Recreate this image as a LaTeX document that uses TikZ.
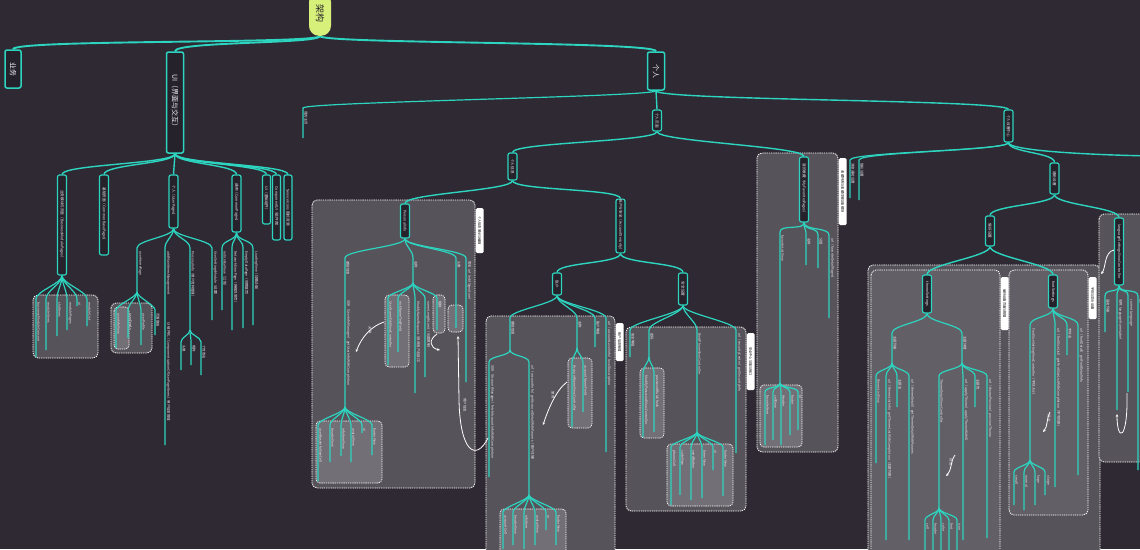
\documentclass[tikz,border=0pt]{standalone}
\usepackage{fontspec}
\setmainfont{Noto Sans CJK SC}
\usetikzlibrary{arrows.meta}
\definecolor{bgc}{RGB}{46,41,51}
\definecolor{cy}{RGB}{45,212,191}
\definecolor{grpf}{RGB}{86,83,90}
\definecolor{grpg}{RGB}{98,95,102}
\definecolor{inf}{RGB}{114,111,118}
\definecolor{ndf}{RGB}{38,34,44}
\definecolor{lime}{RGB}{214,240,122}
\definecolor{txt}{RGB}{236,236,240}
\pgfdeclarelayer{boxes}
\pgfdeclarelayer{lines}
\pgfsetlayers{boxes,lines,main}
\newcommand\vrt[1]{\rotatebox{-90}{#1}}
\newcommand\conn[3][10]{\begin{pgfonlayer}{lines}\draw[cl] (#2.south) .. controls +(0,#1) and +(0,-#1) .. (#3.north);\end{pgfonlayer}}
\newcommand\leafx[7][8]{%
 \coordinate (#2) at (#4,#5);%
 \coordinate (#2-e) at (#4,#6);%
 \node[lt,anchor=north west] (#2-t) at ([xshift=0.9pt,yshift=-3pt]#2) {\vrt{#7}};%
 \begin{pgfonlayer}{lines}\draw[cl,line width=1.2pt] (#3) .. controls +(0,#1) and +(0,-#1) .. (#2) -- (#2-e);\end{pgfonlayer}}
\newcommand\grpbox[5]{\begin{pgfonlayer}{boxes}\draw[#1] (#2,#3) rectangle (#4,#5);\end{pgfonlayer}}
\newcommand\tagn[4]{\node[tagbox,minimum height=#3pt,anchor=north west] (#1) at (#2) {\vrt{#4}};}
\tikzset{
 vn/.style={draw=cy, line width=1.2pt, fill=ndf, rounded corners=2pt, inner sep=0.6pt, minimum width=9pt, text=txt, font=\fontsize{3.6}{4}\selectfont},
 big/.style={vn, minimum width=17pt, line width=1.5pt, font=\fontsize{7}{8}\selectfont},
 lt/.style={inner sep=0.3pt, text=txt, font=\fontsize{3.4}{3.8}\selectfont},
 cl/.style={draw=cy, line width=1.4pt},
 topl/.style={draw=cy, line width=1.9pt},
 grp/.style={fill=grpf, draw=white, dash pattern=on 1.3pt off 0.9pt, line width=0.8pt, rounded corners=5pt},
 grp2/.style={grp, fill=grpg},
 inb/.style={fill=inf, draw=white, dash pattern=on 1.3pt off 0.9pt, line width=0.7pt, rounded corners=4pt},
 tagbox/.style={fill=white, rounded corners=1.5pt, inner sep=0.6pt, minimum width=8pt, text=black, font=\fontsize{3.2}{3.6}\selectfont},
 rel/.style={draw=white, line width=0.8pt, -{Stealth[length=3pt,width=2.6pt]}},
}
\begin{document}
\begin{tikzpicture}[x=1pt,y=-1pt]
\useasboundingbox (0,0) rectangle (1140,549);
\begin{pgfonlayer}{boxes}
\fill[bgc] (0,0) rectangle (1140,549);
\end{pgfonlayer}
% ---------- group boxes ----------
\grpbox{grp}{33}{295}{98}{358}
\grpbox{grp}{111}{303}{152}{353}
\grpbox{inb}{114}{307}{129}{349}
\grpbox{grp}{757}{153}{838}{452}
\grpbox{inb}{760}{385}{802}{447}
\grpbox{grp}{312}{200}{475}{488}
\grpbox{inb}{316}{421}{382}{483}
\grpbox{inb}{385}{295}{409}{367}
\grpbox{inb}{433}{295}{445}{333}
\grpbox{inb}{448}{305}{463}{332}
\grpbox{grp}{486}{316}{615}{560}
\grpbox{inb}{500}{509}{566}{560}
\grpbox{inb}{568}{358}{592}{428}
\grpbox{grp}{626}{327}{746}{511}
\grpbox{inb}{640}{368}{664}{438}
\grpbox{inb}{667}{444}{733}{506}
\grpbox{grp}{868}{265}{1100}{560}
\grpbox{grp2}{871}{270}{1000}{560}
\grpbox{grp2}{1009}{270}{1088}{515}
\grpbox{grp}{1099}{214}{1150}{462}
% ---------- top level ----------
\node[fill=lime, rounded corners=10pt, minimum width=22pt, minimum height=44pt, inner sep=0pt, anchor=south, text=ndf, font=\fontsize{9}{10}\selectfont] (root) at (320,36) {\vrt{架构}};
\node[big, minimum height=38pt, minimum width=16pt] (yw) at (13,69) {\vrt{业务}};
\node[big, minimum height=101pt] (ui) at (175,102.5) {\vrt{UI（界面与交互）}};
\node[big, minimum height=38pt] (gr) at (656,71) {\vrt{个人}};
\begin{pgfonlayer}{lines}
\draw[topl] (root.south) .. controls +(0,8) and +(0,-10) .. (yw.north);
\draw[topl] (root.south) .. controls +(0,8) and +(0,-10) .. (ui.north);
\draw[topl] (root.south) .. controls +(0,8) and +(0,-10) .. (gr.north);
\end{pgfonlayer}
% ---------- UI ----------
\node[vn, minimum height=100pt] (ua) at (62,225) {\vrt{业务模块与页面（BusinessModulePages）}};
\node[vn, minimum height=80pt] (ub) at (104,215) {\vrt{基础页面（CommonBasePages）}};
\node[vn, minimum height=53pt] (uc) at (173.5,201.5) {\vrt{个人（UserPages）}};
\node[vn, minimum height=57pt] (ud) at (236.5,203.5) {\vrt{通用（CommonPages）}};
\node[vn, minimum height=49pt, minimum width=8pt] (ue) at (266.5,199.5) {\vrt{UI（基础组件）}};
\node[vn, minimum height=65pt, minimum width=8pt] (uf) at (276.5,207.5) {\vrt{ComponentUI（组件库）}};
\node[vn, minimum height=65pt, minimum width=8pt] (ug) at (288,207.5) {\vrt{ServiceIcons 图标资源}};
\foreach \c in {ua,ub,uc,ud,ue,uf,ug}{\conn{ui}{\c}}
\leafx{a1}{ua.south}{36}{299}{357}{businessModuleConcern}
\leafx{a2}{ua.south}{46}{299}{350}{moduleItems}
\leafx{a3}{ua.south}{57}{299}{336}{slotItems}
\leafx{a4}{ua.south}{67}{299}{330}{modulePages}
\leafx{a5}{ua.south}{77}{299}{306}{ui}
\leafx{a6}{ua.south}{87}{299}{326}{moduleList}
\leafx{c1}{uc.south}{137}{248}{292}{userHomePage}
\leafx[5]{c11}{c1-e}{116}{310}{348}{userInfoView}
\leafx[5]{c12}{c1-e}{128}{310}{338}{userFeeds}
\leafx[5]{c13}{c1-e}{141}{310}{345}{userProfile}
\leafx[5]{c14}{c1-e}{155}{310}{335}{页面路由}
\leafx{c2}{uc.south}{165}{248}{445}{addMainItemsManagement}
\node[lt,anchor=north west] (c2b) at (166,322) {\vrt{UI 组件化（ComponentizationOfUserPageItems）用户信息管理}};
\leafx{c3}{uc.south}{190}{248}{330}{PersonalInfo（用户资料管理）}
\leafx[5]{c31}{c3-e}{181}{342}{370}{头像}
\leafx[5]{c32}{c3-e}{191}{342}{365}{昵称}
\leafx[5]{c33}{c3-e}{201}{342}{375}{个性签名}
\leafx{c4}{uc.south}{212}{248}{320}{UserSettingsModule（设置）}
\leafx{d1}{ud.south}{222}{248}{310}{noticeBarView（公告）}
\leafx{d2}{ud.south}{232}{248}{330}{NetworkErrorPage（网络异常页）}
\leafx{d3}{ud.south}{243}{248}{328}{EmptyDataPage（空数据页）}
\leafx{d4}{ud.south}{253}{248}{325}{LoadingView（加载动画）}
% ---------- 个人 ----------
\leafx[6]{p1}{gr.south}{303}{108}{138}{我的主页}
\node[vn, minimum height=21pt] (p2) at (657,120.5) {\vrt{个人页面}};
\node[vn, minimum height=32pt] (p3) at (1008.5,126) {\vrt{个人设置中心}};
\conn{gr}{p2}
\conn{gr}{p3}
\coordinate (p3R) at (1160,156);
\begin{pgfonlayer}{lines}\draw[cl] (p3.south) .. controls +(0,10) and +(-30,0) .. (p3R);\end{pgfonlayer}
% p2
\node[vn, minimum height=27pt] (q1) at (512.5,166.5) {\vrt{个人信息}};
\node[vn, minimum height=65pt] (g1n) at (804,189.5) {\vrt{我的收藏（MyFavoritesPages）}};
\conn{p2}{q1}
\conn{p2}{g1n}
\tagn{g1t}{838.5,158}{67}{收藏列表与收藏详情功能模块}
\leafx{g11}{g1n.south}{780}{232}{383}{favoriteListView}
\foreach \xx/\yb/\lab [count=\i] in {765/445/favoriteItem,773/440/cellView,781/445/Header,790/435/footer,798/430/ui}{\leafx[5]{g11\i}{g11-e}{\xx}{392}{\yb}{\lab}}
\leafx{g12}{g1n.south}{806}{235}{265}{名称}
\leafx{g13}{g1n.south}{818}{235}{268}{分组}
\leafx{g14}{g1n.south}{829}{235}{318}{url（favoriteDetailPages）}
% q1
\node[vn, minimum height=34pt] (r1) at (405,221) {\vrt{PersonalInfo}};
\node[vn, minimum height=52pt] (r2) at (620.5,226) {\vrt{账户与安全（AccountSecurity）}};
\conn{q1}{r1}
\conn{q1}{r2}
\tagn{g2t}{475.5,208}{45}{个人信息展示与编辑}
\leafx{e1}{r1.south}{345}{258}{407}{基础信息}
\node[lt,anchor=north west] (e1b) at (346,300) {\vrt{SDK（UserInfoManager）getUserInfoWithCompletion}};
\foreach \xx/\yb/\lab [count=\i] in {318/481/userBaseInfoViewCell,330/462/headerView,341/456/infoItemView,351/462/avatarView,362/433/ui,372/455/footerView}{\leafx[6]{e1\i}{e1-e}{\xx}{425}{\yb}{\lab}}
\leafx{e2}{r1.south}{413}{258}{283}{名称}
\leafx[5]{e21}{e2-e}{388}{298}{365}{UserNameEditViewController}
\leafx[5]{e22}{e2-e}{398}{298}{352}{nickNameTextField}
\leafx[5]{e23}{e2-e}{415}{298}{393}{ModifyNameRequest（修改用户名接口）}
\leafx[5]{e24}{e2-e}{425}{298}{377}{nameLengthLimit（长度限制）}
\leafx[5]{e25}{e2-e}{437}{298}{330}{昵称}
\leafx{e3}{r1.south}{456}{258}{328}{头像}
\leafx{e4}{r1.south}{466}{258}{382}{签名 url（editSignature）}
\draw[rel] (384,322) .. controls (372,326) and (362,336) .. (356,352);
\node[lt] (rl1) at (370,330) {\vrt{关联}};
\draw[rel] (437,334) .. controls (428,340) and (430,348) .. (440,350);
\draw[rel] (488,438) .. controls (476,462) and (460,452) .. (459,400) -- (458,336);
\node[lt] (rl2) at (465,405) {\vrt{用户信息}};
% r2
\node[vn, minimum height=22pt] (s1) at (557,284) {\vrt{账户}};
\node[vn, minimum height=32pt] (s2) at (683,289) {\vrt{安全设置}};
\conn{r2}{s1}
\conn{r2}{s2}
\tagn{g3t}{615.5,323}{38}{账户信息管理}
\leafx{t1}{s1.south}{510}{318}{350}{基础信息}
\leafx[6]{t11}{t1-e}{489}{362}{477}{SDK（AccountManager）fetchAccountInfoWithCompletion}
\leafx[6]{t12}{t1-e}{529}{362}{495}{url（accountInfo）getAccountDetailWithParams（账户详情）}
\foreach \xx/\yb/\lab [count=\i] in {503/549/accountCell,513/545/headerView,524/549/infoItem,535/545/avatarView,546/530/ui,556/545/footerView}{\leafx[5]{t12\i}{t12-e}{\xx}{512}{\yb}{\lab}}
\leafx{t2}{s1.south}{577}{318}{348}{名称}
\leafx[5]{t21}{t2-e}{572}{362}{427}{AccountNameViewController}
\leafx[5]{t22}{t2-e}{583}{362}{412}{accountNameField}
\leafx{t3}{s1.south}{595}{318}{347}{账户等级}
\leafx{t4}{s1.south}{606}{318}{452}{url（accountLevelInfo）levelDescription}
\draw[rel] (567,382) .. controls (556,390) and (548,410) .. (543,425);
\node[lt] (rl3) at (553,395) {\vrt{复用}};
\tagn{g4t}{746.5,333}{57}{安全中心功能与接口}
\leafx{u1}{s2.south}{630}{330}{357}{安全等级}
\leafx{u2}{s2.south}{649}{330}{357}{密码}
\leafx[5]{u21}{u2-e}{643}{372}{437}{ModifyPasswordViewController}
\leafx[5]{u22}{u2-e}{654}{372}{432}{passwordRuleCheck}
\leafx{u3}{s2.south}{697}{330}{432}{BindPhoneViewController}
\foreach \xx/\yb/\lab [count=\i] in {671/505/phoneCell,680/495/codeView,691/500/sendButton,702/498/timerView,713/470/ui,723/496/footerView}{\leafx[5]{u3\i}{u3-e}{\xx}{447}{\yb}{\lab}}
\leafx{u4}{s2.south}{736}{330}{453}{url（securityCenter）getSecurityInfo}
% ---------- p3 ----------
\leafx{v1}{p3.south}{850}{160}{198}{消息通知设置}
\leafx{v2}{p3.south}{859}{160}{200}{隐私设置}
\node[vn, minimum height=31pt] (v3) at (1054.5,178.5) {\vrt{通用设置}};
\conn{p3}{v3}
\node[vn, minimum height=30pt] (w1) at (990,231) {\vrt{偏好设置}};
\node[vn, minimum height=67pt] (g5n) at (1119,251.5) {\vrt{languageSettingsViewController}};
\conn{v3}{w1}
\conn{v3}{g5n}
\leafx{x1}{g5n.south}{1105}{296}{332}{语言列表}
\leafx{x2}{g5n.south}{1117}{296}{410}{名称 languageNameLabel}
\leafx{x3}{g5n.south}{1128}{296}{392}{currentLanguage}
\leafx{x4}{g5n.south}{1138}{296}{470}{url}
\draw[rel] (1114,250) .. controls (1104,252) and (1106,268) .. (1101,274);
\draw[rel] (1127,393) .. controls (1128,442) and (1117,442) .. (1117,414);
% w1
\node[vn, minimum height=38pt] (g6n) at (927,294) {\vrt{themeSettings}};
\node[vn, minimum height=33pt] (g7n) at (1053,291.5) {\vrt{fontSettings}};
\conn{w1}{g6n}
\conn{w1}{g7n}
\tagn{g6t}{1000.5,277}{53}{偏好设置页面与数据}
\tagn{g7t}{1088.5,277}{42}{字体与显示设置}
\leafx{y1}{g6n.south}{892}{333}{363}{主题列表}
\leafx[6]{y11}{y1-e}{876}{376}{463}{themeListView}
\leafx[6]{y12}{y1-e}{886}{376}{540}{url（themeListInfo）getThemeListWithCompletion（主题列表）}
\leafx[6]{y13}{y1-e}{897}{376}{407}{主题名}
\leafx[6]{y14}{y1-e}{909}{376}{540}{url（themeDetail）getThemeDetailWithParams}
\leafx{y2}{g6n.south}{962}{333}{363}{主题详情}
\leafx[6]{y21}{y2-e}{939}{376}{508}{ThemeDetailViewController}
\foreach \xx/\lab [count=\i] in {925/cell,933/header,941/color,949/font,957/icon}{\leafx[5]{y21\i}{y21-e}{\xx}{520}{560}{\lab}}
\leafx[6]{y22}{y2-e}{963}{376}{540}{url（applyTheme）applyThemeWithID}
\leafx[6]{y23}{y2-e}{975}{376}{407}{主题色}
\leafx[6]{y24}{y2-e}{987}{376}{538}{url（themePreview）previewTheme}
\draw[rel] (955,455) .. controls (950,462) and (952,470) .. (946,476);
\node[lt] (rl4) at (951,462) {\vrt{预览}};
\leafx{z1}{g7n.south}{1030}{325}{460}{FontSizeSettingViewController（字体大小）}
\foreach \xx/\yb/\lab [count=\i] in {1014/505/small,1024/510/normal,1035/505/large,1045/495/xlarge}{\leafx[5]{z1\i}{z1-e}{\xx}{472}{\yb}{\lab}}
\leafx{z2}{g7n.south}{1055}{325}{487}{url（fontSizeList）getFontSizeListWithCompletion（字号列表）}
\leafx{z3}{g7n.south}{1067}{325}{355}{字体名}
\leafx{z4}{g7n.south}{1078}{325}{475}{url（fontDetail）getFontDetailInfo}
\draw[rel] (1050,412) .. controls (1046,420) and (1048,426) .. (1043,432);
\node[lt] (rl5) at (1049,418) {\vrt{预览}};
\end{tikzpicture}
\end{document}
